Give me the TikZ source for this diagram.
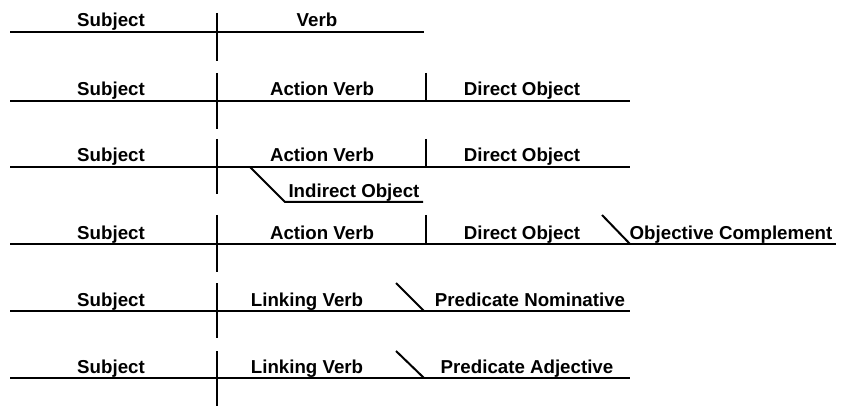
\documentclass[tikz,border=0pt]{standalone}
\usepackage{fontspec}
\setmainfont{Liberation Sans}
\begin{document}
\begin{tikzpicture}[x=1pt,y=-1pt,
  rule/.style={line width=2pt, black},
  word/.style={anchor=base, inner sep=0pt, font=\bfseries\fontsize{18.7}{22}\selectfont}]
\useasboundingbox (0,0) rectangle (851,406);

% Subject | Verb
\draw[rule] (10,32) -- (424,32);
\draw[rule] (217,13) -- (217,61);
\node[word] (s1) at (111,27) {Subject};
\node[word] (v1) at (317,27) {Verb};

% Subject | Action Verb | Direct Object
\draw[rule] (10,101) -- (630,101);
\draw[rule] (217,73) -- (217,129);
\draw[rule] (426,73) -- (426,101);
\node[word] (s2) at (111,96) {Subject};
\node[word] (v2) at (322,96) {Action Verb};
\node[word] (d2) at (522,96) {Direct Object};

% ... with indirect object hanging below the verb
\draw[rule] (10,167) -- (630,167);
\draw[rule] (217,139) -- (217,194);
\draw[rule] (426,139) -- (426,167);
\draw[rule] (250,167) -- (285,202) -- (423,202);
\node[word] (s3) at (111,162) {Subject};
\node[word] (v3) at (322,162) {Action Verb};
\node[word] (d3) at (522,162) {Direct Object};
\node[word] (i3) at (354,197) {Indirect Object};

% ... with objective complement
\draw[rule] (10,244) -- (836,244);
\draw[rule] (217,215) -- (217,272);
\draw[rule] (426,215) -- (426,244);
\draw[rule] (602,215) -- (630,244);
\node[word] (s4) at (111,239) {Subject};
\node[word] (v4) at (322,239) {Action Verb};
\node[word] (d4) at (522,239) {Direct Object};
\node[word] (c4) at (731,239) {Objective Complement};

% Subject | Linking Verb \ Predicate Nominative
\draw[rule] (10,311) -- (630,311);
\draw[rule] (217,283) -- (217,338);
\draw[rule] (396,283) -- (424,311);
\node[word] (s5) at (111,306) {Subject};
\node[word] (v5) at (307,306) {Linking Verb};
\node[word] (p5) at (530,306) {Predicate Nominative};

% Subject | Linking Verb \ Predicate Adjective
\draw[rule] (10,378) -- (630,378);
\draw[rule] (217,351) -- (217,406);
\draw[rule] (396,351) -- (424,378);
\node[word] (s6) at (111,373) {Subject};
\node[word] (v6) at (307,373) {Linking Verb};
\node[word] (p6) at (527,373) {Predicate Adjective};
\end{tikzpicture}
\end{document}
